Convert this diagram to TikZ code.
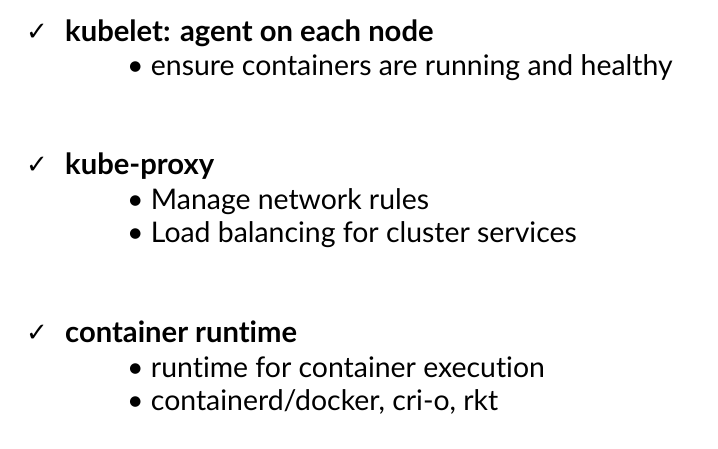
\documentclass[tikz,border=0pt]{standalone}
\usepackage{fontspec}
\setmainfont{Lato}[Ligatures={NoCommon,NoRequired}]
\newfontfamily\symfont{DejaVu Sans}
\usepackage{tikz}

\tikzset{
    head/.style={anchor=base west, inner sep=0pt, font=\fontsize{29.2}{32}\selectfont\bfseries},
    item/.style={anchor=base west, inner sep=0pt, font=\fontsize{28.4}{32}\selectfont},
    tick/.style={anchor=base west, inner sep=0pt, font=\fontsize{26}{28}\symfont}
}

\begin{document}
\begin{tikzpicture}[x=1pt, y=-1pt]
    \useasboundingbox (0, 0) rectangle (718, 448);

    % Checkmarks
    \node[tick] (t1) at (26, 40) {✓};
    \node[tick] (t2) at (26, 173) {✓};
    \node[tick] (t3) at (26, 341) {✓};

    % Headings
    \node[head] (kubelet) at (65, 41) {kubelet: agent on each node};
    \node[head] (proxy) at (65, 174) {kube-proxy};
    \node[head] (runtime) at (65, 342) {container runtime};

    % Items under each heading
    \node[item] (k1) at (127, 75) {• ensure containers are running and healthy};

    \node[item] (p1) at (127, 209) {• Manage network rules};
    \node[item] (p2) at (127, 242) {• Load balancing for cluster services};

    \node[item] (r1) at (127, 377) {• runtime for container execution};
    \node[item] (r2) at (127, 410) {• containerd/docker, cri-o, rkt};

\end{tikzpicture}
\end{document}
